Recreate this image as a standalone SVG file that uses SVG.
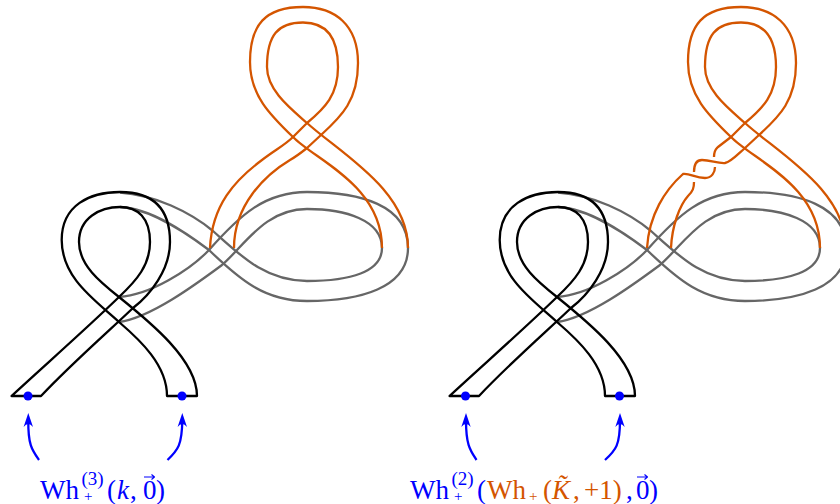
<svg xmlns="http://www.w3.org/2000/svg" width="840" height="504" viewBox="0 0 840 504">
<style>
path{fill:none;stroke-width:2.3;stroke-linejoin:round}
.k{stroke:#000}.g{stroke:#666}.o{stroke:#d45500}.b{stroke:#00f}
.v{stroke:#00f;stroke-width:1.1}
.h{fill:#00f;stroke:none}.d{fill:#00f}
text{font-family:"Liberation Serif",serif;font-size:27px;fill:#00f}
.s{font-size:19px}.u{font-size:15px}.i{font-style:italic}.t{fill:#d45500}
</style>
<defs>
<g id="gray">
<path class="g" d="M120,192.5 C155,195 190,212 213,231 C240,255 265,281 307,281 C350,281 382,272 382,248"/>
<path class="g" d="M120,207 C150,208 185,232 209,250 C240,280 265,301 307,301 C360,301 408,288 408,248"/>
<path class="g" d="M119,297 C150,295 190,270 209,250 C240,215 265,192 307,192 C360,192 408,205 408,248"/>
<path class="g" d="M119,322 C150,318 195,285 222,265 C245,245 265,209 307,209 C345,209 382,220 382,248"/>
</g>
<g id="black">
<path class="k" d="M120,207 C100,207 79,218 79,242 C79,265 100,282 119,297 C150,322 197,360 197,396 H167 C167,365 140,340 119,322 C95,300 61.7,278 61.7,240 C61.7,205 90,192 120,192 C150,192 170,205 170,242 C170,270 150,295 133,308 C110,330 70,365 41,396 H11.5 C45,365 85,330 119,297 C137,280 150,265 150,242 C150,218 138,207 120,207"/>
</g>
<g id="orangeTop">
<path class="o" d="M293,137 L307,123 C325,108 338,95 338,67 C338,35 325,22.5 303,22.5 C278,22.5 267,35 267,67 C267,90 290,108 307,123 C340,153 408,190 408,248"/>
<path class="o" d="M307,148 L321,135 C342,116 358,100 358,63 C358,25 335,7 303,7 C265,7 250,25 250,62 C250,95 270,115 293,137 C315,160 382,185 382,248"/>
</g>
</defs>
<g id="left-knot">
<use href="#gray"/><use href="#black"/><use href="#orangeTop"/>
<path class="o" d="M210,248 C212,205 235,180 262,160 C275,150 285,145 293,137"/>
<path class="o" d="M234,248 C234,205 265,175 290,160 C297,156 302,152 307,148"/>
<circle class="d" cx="28" cy="396" r="4.5"/><circle class="d" cx="182" cy="396" r="4.5"/>
</g>
<g id="right-knot">
<g transform="translate(438,0)"><use href="#gray"/><use href="#black"/><use href="#orangeTop"/></g>
<path class="o" d="M647,248 C649,215 665,190 683,174 C690,173 695,178 705,178 C712,178 715,172 715,167"/>
<path class="o" d="M714,157 C714,150 716,149 718,147 L731,137"/>
<path class="o" d="M671,248 C672,225 680,205 688,196 C693,191 694,188 694,182"/>
<path class="o" d="M694,172 C694,165 696,160 702,160 C711,160 717,163.5 725,163 C731,162 738,154 745,148"/>
<circle class="d" cx="465.5" cy="396" r="4.5"/><circle class="d" cx="619.5" cy="396" r="4.5"/>
</g>
<g id="connectors">
<path class="b" d="M39,460 C32,450 28,445 28.3,420"/><path class="h" d="M28.3,413 L33,427 Q28.3,421 23.6,427 Z"/>
<path class="b" d="M167.5,460 C178,450 182,445 182.3,420"/><path class="h" d="M182.3,413 L187,427 Q182.3,421 177.6,427 Z"/>
<path class="b" d="M476.5,460 C470,450 466,445 466,420"/><path class="h" d="M466,413 L470.7,427 Q466,421 461.3,427 Z"/>
<path class="b" d="M605,460 C616,450 620,445 620,420"/><path class="h" d="M620,413 L624.7,427 Q620,421 615.3,427 Z"/>
</g>
<g id="label-left">
<text x="40" y="498.5">Wh</text>
<text class="s" x="81.5" y="485">(3)</text>
<text class="u" x="84" y="500.5">+</text>
<text x="107" y="498.5">(</text><text class="i" x="117" y="498.5">k</text><text x="130" y="498.5">,</text>
<text x="143" y="498.5">0</text><path class="v" d="M144,477 H154 M151.5,474.5 L154.5,477 L151.5,479.5"/><text x="156" y="498.5">)</text>
</g>
<g id="label-right">
<text x="410" y="498.5">Wh</text>
<text class="s" x="451.5" y="485">(2)</text>
<text class="u" x="454" y="500.5">+</text>
<text x="477" y="498.5">(</text>
<text class="t" x="487" y="498.5">Wh</text>
<text class="t u" x="529" y="500.5">+</text>
<text class="t" x="543" y="498.5">(</text>
<text class="t i" x="552" y="498.5">K̃</text>
<text class="t" x="573" y="498.5">,</text>
<text class="t" x="584" y="498.5">+1)</text>
<text x="626" y="498.5">,</text>
<text x="636" y="498.5">0</text><path class="v" d="M637,477 H647 M644.5,474.5 L647.5,477 L644.5,479.5"/><text x="649" y="498.5">)</text>
</g>
</svg>
